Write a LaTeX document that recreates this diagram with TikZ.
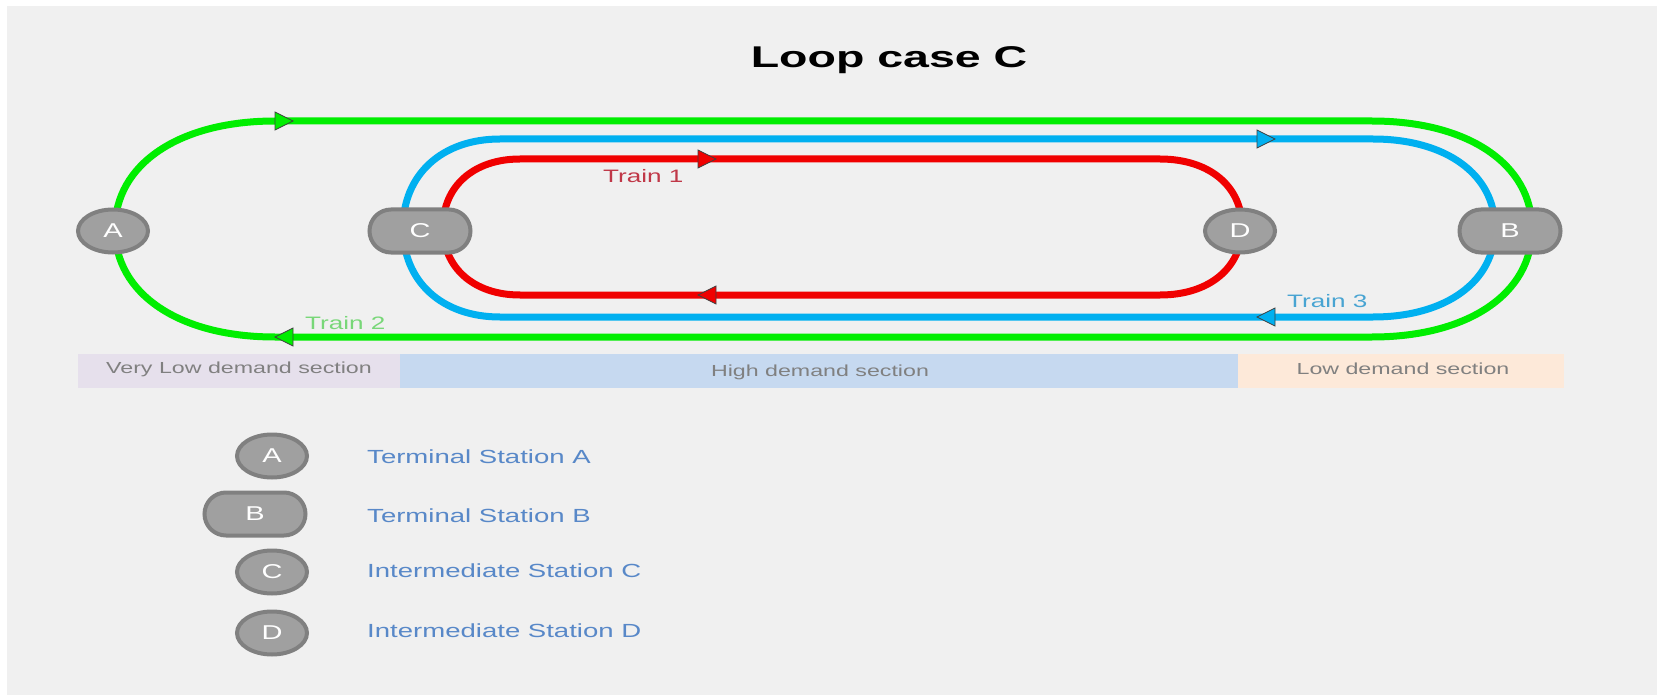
\documentclass[tikz,border=0pt]{standalone}
\usepackage{fontspec}
\setmainfont{Liberation Sans}
\newfontfamily\wf[FakeStretch=1.45]{Liberation Sans}
\newfontfamily\wft[FakeStretch=1.55]{Liberation Sans}
\usetikzlibrary{shapes.geometric}

\definecolor{pagebg}{RGB}{240,240,240}
\definecolor{gline}{RGB}{0,238,0}
\definecolor{bline}{RGB}{0,176,240}
\definecolor{rline}{RGB}{240,0,0}
\definecolor{stnEdge}{RGB}{128,128,128}
\definecolor{stnFill}{RGB}{160,160,160}
\definecolor{legtext}{RGB}{88,136,200}
\definecolor{sectext}{RGB}{128,128,128}
\definecolor{vlowbg}{RGB}{230,224,236}
\definecolor{highbg}{RGB}{198,217,240}
\definecolor{lowbg}{RGB}{253,233,217}
\definecolor{t1text}{RGB}{192,56,72}
\definecolor{t2text}{RGB}{120,215,120}
\definecolor{t3text}{RGB}{72,164,210}

\tikzset{
  track/.style={line width=7pt, line join=round},
  trainarrow/.style={draw=black!75, line width=0.8pt, line join=miter},
  stn/.style={ellipse, draw=stnEdge, fill=stnFill, line width=4pt,
    minimum width=70pt, minimum height=43pt, inner sep=0pt,
    text=white, font=\wf\fontsize{20}{20}\selectfont},
  stnwide/.style={stn, rectangle, rounded corners=21.5pt, minimum width=101pt},
  sectionlabel/.style={text=sectext, font=\wf\fontsize{16}{16}\selectfont},
  trainlabel/.style={anchor=base west, inner sep=0pt, font=\wf\fontsize{18}{18}\selectfont},
  legendlabel/.style={anchor=base west, inner sep=0pt, text=legtext,
    font=\wf\fontsize{19}{19}\selectfont},
}

\begin{document}
\begin{tikzpicture}[x=1pt,y=-1pt]
\useasboundingbox (0,0) rectangle (1657,695);
\fill[white] (0,0) rectangle (1657,695);
\fill[pagebg] (7,6) rectangle (1657,695);

% title
\node[anchor=base, inner sep=0pt, font=\wft\bfseries\fontsize{30}{30}\selectfont] (title) at (889,68) {Loop case C};

% demand sections
\fill[vlowbg] (78,354) rectangle (400,388);
\fill[highbg] (400,354) rectangle (1238,388);
\fill[lowbg] (1238,354) rectangle (1564,388);
\node[sectionlabel] (vlow) at (239,369) {Very Low demand section};
\node[sectionlabel] (high) at (820,372) {High demand section};
\node[sectionlabel] (low) at (1403,369) {Low demand section};

% train 2 loop (A -- B)
\draw[track, gline] (275,121) -- (1372,121)
  .. controls (1468,121) and (1532,164.2) .. (1532,229)
  .. controls (1532,293.8) and (1468,337) .. (1372,337)
  -- (275,337)
  .. controls (179,337) and (115,293.8) .. (115,229)
  .. controls (115,164.2) and (179,121) .. (275,121) -- cycle;

% train 3 loop (C -- B)
\draw[track, bline] (500,139) -- (1373,139)
  .. controls (1446.2,139) and (1495,174.6) .. (1495,228)
  .. controls (1495,281.4) and (1446.2,317) .. (1373,317)
  -- (500,317)
  .. controls (441.8,317) and (403,281.4) .. (403,228)
  .. controls (403,174.6) and (441.8,139) .. (500,139) -- cycle;

% train 1 loop (C -- D)
\draw[track, rline] (520,159) -- (1160,159)
  .. controls (1209.2,159) and (1242,186.2) .. (1242,227)
  .. controls (1242,267.8) and (1209.2,295) .. (1160,295)
  -- (520,295)
  .. controls (473.8,295) and (443,267.8) .. (443,227)
  .. controls (443,186.2) and (473.8,159) .. (520,159) -- cycle;

% direction markers
\path[trainarrow, fill=gline] (275,112) -- (293,121) -- (275,130) -- cycle;
\path[trainarrow, fill=gline] (293,328) -- (275,337) -- (293,346) -- cycle;
\path[trainarrow, fill=bline] (1257,130) -- (1275,139) -- (1257,148) -- cycle;
\path[trainarrow, fill=bline] (1275,308) -- (1257,317) -- (1275,326) -- cycle;
\path[trainarrow, fill=rline] (698,150) -- (716,159) -- (698,168) -- cycle;
\path[trainarrow, fill=rline] (716,286) -- (698,295) -- (716,304) -- cycle;

% train labels
\node[trainlabel, text=t1text] (t1) at (603,183) {Train 1};
\node[trainlabel, text=t2text] (t2) at (305,329) {Train 2};
\node[trainlabel, text=t3text] (t3) at (1287,307) {Train 3};

% stations on the loops
\node[stn] (A) at (113,231) {A};
\node[stnwide] (C) at (420,231) {C};
\node[stn] (D) at (1240,231) {D};
\node[stnwide] (B) at (1510,231) {B};

% legend
\node[stn] (keyA) at (272,456) {A};
\node[stnwide] (keyB) at (255,514) {B};
\node[stn] (keyC) at (272,572) {C};
\node[stn] (keyD) at (272,633) {D};
\node[legendlabel] (keyAt) at (367,463) {Terminal Station A};
\node[legendlabel] (keyBt) at (367,522) {Terminal Station B};
\node[legendlabel] (keyCt) at (367,577) {Intermediate Station C};
\node[legendlabel] (keyDt) at (367,637) {Intermediate Station D};
\end{tikzpicture}
\end{document}
